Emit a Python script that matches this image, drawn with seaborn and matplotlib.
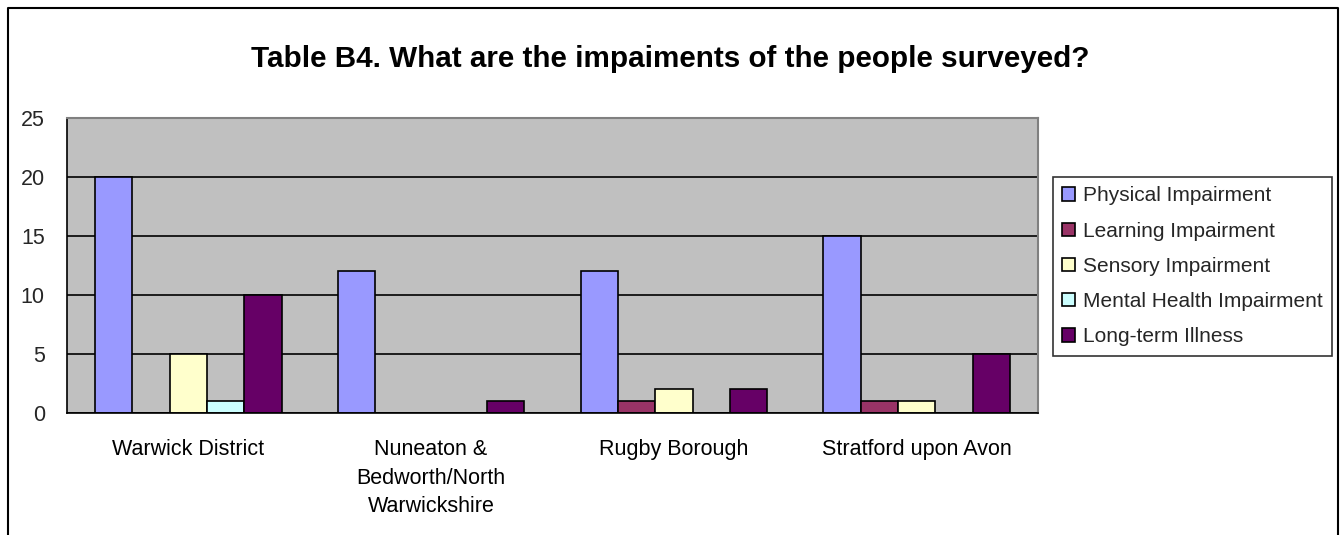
import numpy as np
import pandas as pd
import matplotlib
matplotlib.use("Agg")
import matplotlib.pyplot as plt
import seaborn as sns
from matplotlib.lines import Line2D

# ---- data ----
categories = ["Warwick District", "Nuneaton &\nBedworth/North\nWarwickshire",
              "Rugby Borough", "Stratford upon Avon"]
series_names = ["Physical Impairment", "Learning Impairment", "Sensory Impairment",
                "Mental Health Impairment", "Long-term Illness"]
physical = [20, 12, 12, 15]
learning = [0, 0, 1, 1]
sensory = [5, 0, 2, 1]
mental = [1, 0, 0, 0]
longterm = [10, 1, 2, 5]
y_ticks = [0, 5, 10, 15, 20, 25]
colors = ["#9999FF", "#993366", "#FFFFCC", "#CCFFFF", "#660066"]
title = "Table B4. What are the impaiments of the people surveyed?"

values = [physical, learning, sensory, mental, longterm]
rows = []
for name, vals in zip(series_names, values):
    for cat, v in zip(categories, vals):
        rows.append({"Area": cat, "Type": name, "Count": v})
df = pd.DataFrame(rows)

sns.set_theme(style="white")
plt.rcParams["font.family"] = ["Liberation Sans", "DejaVu Sans"]

W, H = 1341, 535
fig = plt.figure(figsize=(W / 100, H / 100), dpi=100)
fig.patch.set_facecolor("white")
ax = fig.add_axes([67 / W, (H - 413) / H, (1038 - 67) / W, (413 - 118) / H])

sns.barplot(data=df, x="Area", y="Count", hue="Type", order=categories,
            hue_order=series_names, palette=colors, saturation=1,
            width=5 / 6.5, gap=0, edgecolor="black", linewidth=1.2,
            errorbar=None, ax=ax)

ax.set_facecolor("#C0C0C0")
ax.set_xlim(-0.5, len(categories) - 0.5)
ax.set_ylim(0, 25)
ax.set_yticks(y_ticks)
ax.set_yticklabels([str(t) for t in y_ticks], fontsize=15.5)
ax.yaxis.grid(True, color="black", linewidth=1.2)
ax.set_axisbelow(True)
ax.set_xlabel("")
ax.set_ylabel("")

ax.set_xticks(range(len(categories)))
ax.set_xticklabels(categories, fontsize=15.5, linespacing=1.47)
ax.set_xticks(np.arange(-0.5, len(categories), 1.0), minor=True)
ax.tick_params(axis="x", which="major", length=0, pad=19, colors="black")
ax.tick_params(axis="x", which="minor", length=7, width=1.2, direction="out", color="black")
ax.tick_params(axis="y", which="major", length=6, width=1.2, direction="out", pad=10, color="black")

for s in ["top", "right"]:
    ax.spines[s].set_color("#808080")
    ax.spines[s].set_linewidth(1.5)
for s in ["left", "bottom"]:
    ax.spines[s].set_color("black")
    ax.spines[s].set_linewidth(1.2)

handles, labels = ax.get_legend_handles_labels()
if ax.get_legend() is not None:
    ax.get_legend().remove()
leg = fig.legend(handles, labels, loc="upper left",
                 bbox_to_anchor=(1053 / W, 1 - 177 / H), bbox_transform=fig.transFigure,
                 fontsize=15, frameon=True, fancybox=False, edgecolor="black",
                 handlelength=0.6, handleheight=0.6, handletextpad=0.4,
                 labelspacing=0.78, borderpad=0.45, borderaxespad=0)
leg.get_frame().set_linewidth(1.2)

fig.text(0.5, 1 - 59 / H, title, ha="center", va="center",
         fontsize=21.3, fontweight="bold", color="black")

# outer chart border (bottom edge is cut off)
x0, x1, yt = 8 / W, 1338 / W, 1 - 8 / H
fig.add_artist(Line2D([x0, x0, x1, x1], [-0.1, yt, yt, -0.1],
                      transform=fig.transFigure, color="black", linewidth=1.5))

fig.savefig("out.png", dpi=100)
